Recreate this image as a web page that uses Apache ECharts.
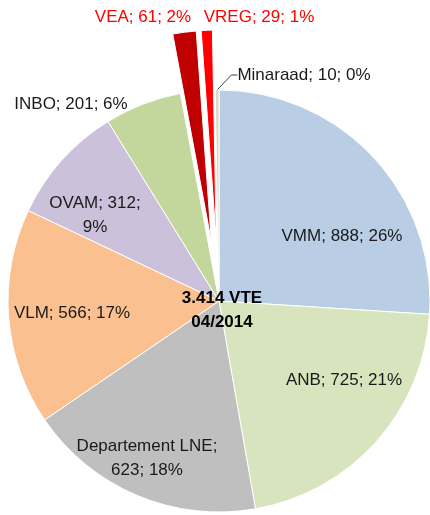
<!DOCTYPE html>
<html style="height: 100%">
<head>
	<meta charset="utf-8">
	<script type="text/javascript" src="https://cdn.jsdelivr.net/npm/echarts@6/dist/echarts.min.js"></script>
	<style>
	body{ margin:0; background:#fff; }
	</style>
</head>
<body style="height: 100%; margin: 0">
	<div id="container" style="width:430px; height:515px;"></div>
	<script>
	// Data
	var names = ['VMM', 'ANB', 'Departement LNE', 'VLM', 'OVAM', 'INBO', 'VEA', 'VREG', 'Minaraad'];
	var values = [888, 725, 623, 566, 312, 201, 61, 29, 10];
	var colors = ['#b9cde5', '#d7e4bd', '#bfbfbf', '#fac090', '#ccc1da', '#c3d69b', '#c00000', '#ff0000', '#ddd9c3'];
	var exploded = ['VEA', 'VREG'];
	var centerText = '3.414 VTE\n04/2014';

	// label layout (centre of each label) and where the text wraps
	var labelPos = [[342, 236], [344, 380], [147, 458], [72, 313], [95, 215], [71, 104], [143, 17], [259, 17], [304, 75]];
	var wrapAt = [0, 0, 1, 0, 2, 0, 0, 0, 0];
	var font = '"Liberation Sans", Arial, sans-serif';
	var cx = 219, cy = 301, R = 211, explode = 60;

	var myChart = echarts.init(document.getElementById('container'));

	var total = 0;
	values.forEach(function (v) { total += v; });

	function makeData(only) {
		return names.map(function (n, i) {
			var show = only ? n == only : exploded.indexOf(n) < 0;
			var item = {
				name: n,
				value: values[i],
				itemStyle: show ? { color: colors[i] } : { color: 'rgba(0,0,0,0)', borderWidth: 0 }
			};
			if (!only) {
				if (exploded.indexOf(n) >= 0) {
					item.label = { color: '#ff0000', position: 'outside' };
				}
				if (n == 'INBO') {
					item.label = { position: 'outside' };
				}
				if (n == 'Minaraad') {
					item.label = { position: 'outside' };
					item.labelLine = { show: true, length: 8, length2: 6, lineStyle: { color: '#404040', width: 1 } };
				}
			}
			return item;
		});
	}

	var baseSeries = {
		type: 'pie',
		radius: R,
		startAngle: 90,
		clockwise: true,
		percentPrecision: 0,
		avoidLabelOverlap: false,
		emphasis: { disabled: true },
		itemStyle: { borderColor: '#fff', borderWidth: 1 }
	};

	var series = [Object.assign({}, baseSeries, {
		center: [cx, cy],
		label: {
			show: true,
			position: 'inside',
			fontFamily: font,
			fontSize: 17,
			lineHeight: 24,
			color: '#1a1a1a',
			formatter: function (p) {
				var i = p.dataIndex;
				var sep1 = wrapAt[i] == 1 ? ';\n' : '; ';
				var sep2 = wrapAt[i] == 2 ? ';\n' : '; ';
				return p.name + sep1 + p.value + sep2 + p.percent + '%';
			}
		},
		labelLine: { show: false },
		labelLayout: function (params) {
			var pos = labelPos[params.dataIndex];
			return { x: pos[0], y: pos[1], align: 'center', verticalAlign: 'middle' };
		},
		data: makeData(null)
	})];

	// exploded slices: same pie, centre pushed out along the slice's middle angle
	exploded.forEach(function (n) {
		var idx = names.indexOf(n);
		var before = 0;
		for (var i = 0; i < idx; i++) before += values[i];
		var a = (before + values[idx] / 2) / total * 2 * Math.PI;
		series.push(Object.assign({}, baseSeries, {
			center: [cx + Math.sin(a) * explode, cy - Math.cos(a) * explode],
			silent: true,
			label: { show: false },
			labelLine: { show: false },
			data: makeData(n)
		}));
	});

	var option = {
		animation: false,
		graphic: [{
			type: 'text',
			x: 222,
			y: 310,
			z: 100,
			style: {
				text: centerText,
				align: 'center',
				verticalAlign: 'middle',
				font: 'bold 17px ' + font,
				lineHeight: 24,
				fill: '#000'
			}
		}],
		series: series
	};

	myChart.setOption(option);
	</script>
</body>
</html>
